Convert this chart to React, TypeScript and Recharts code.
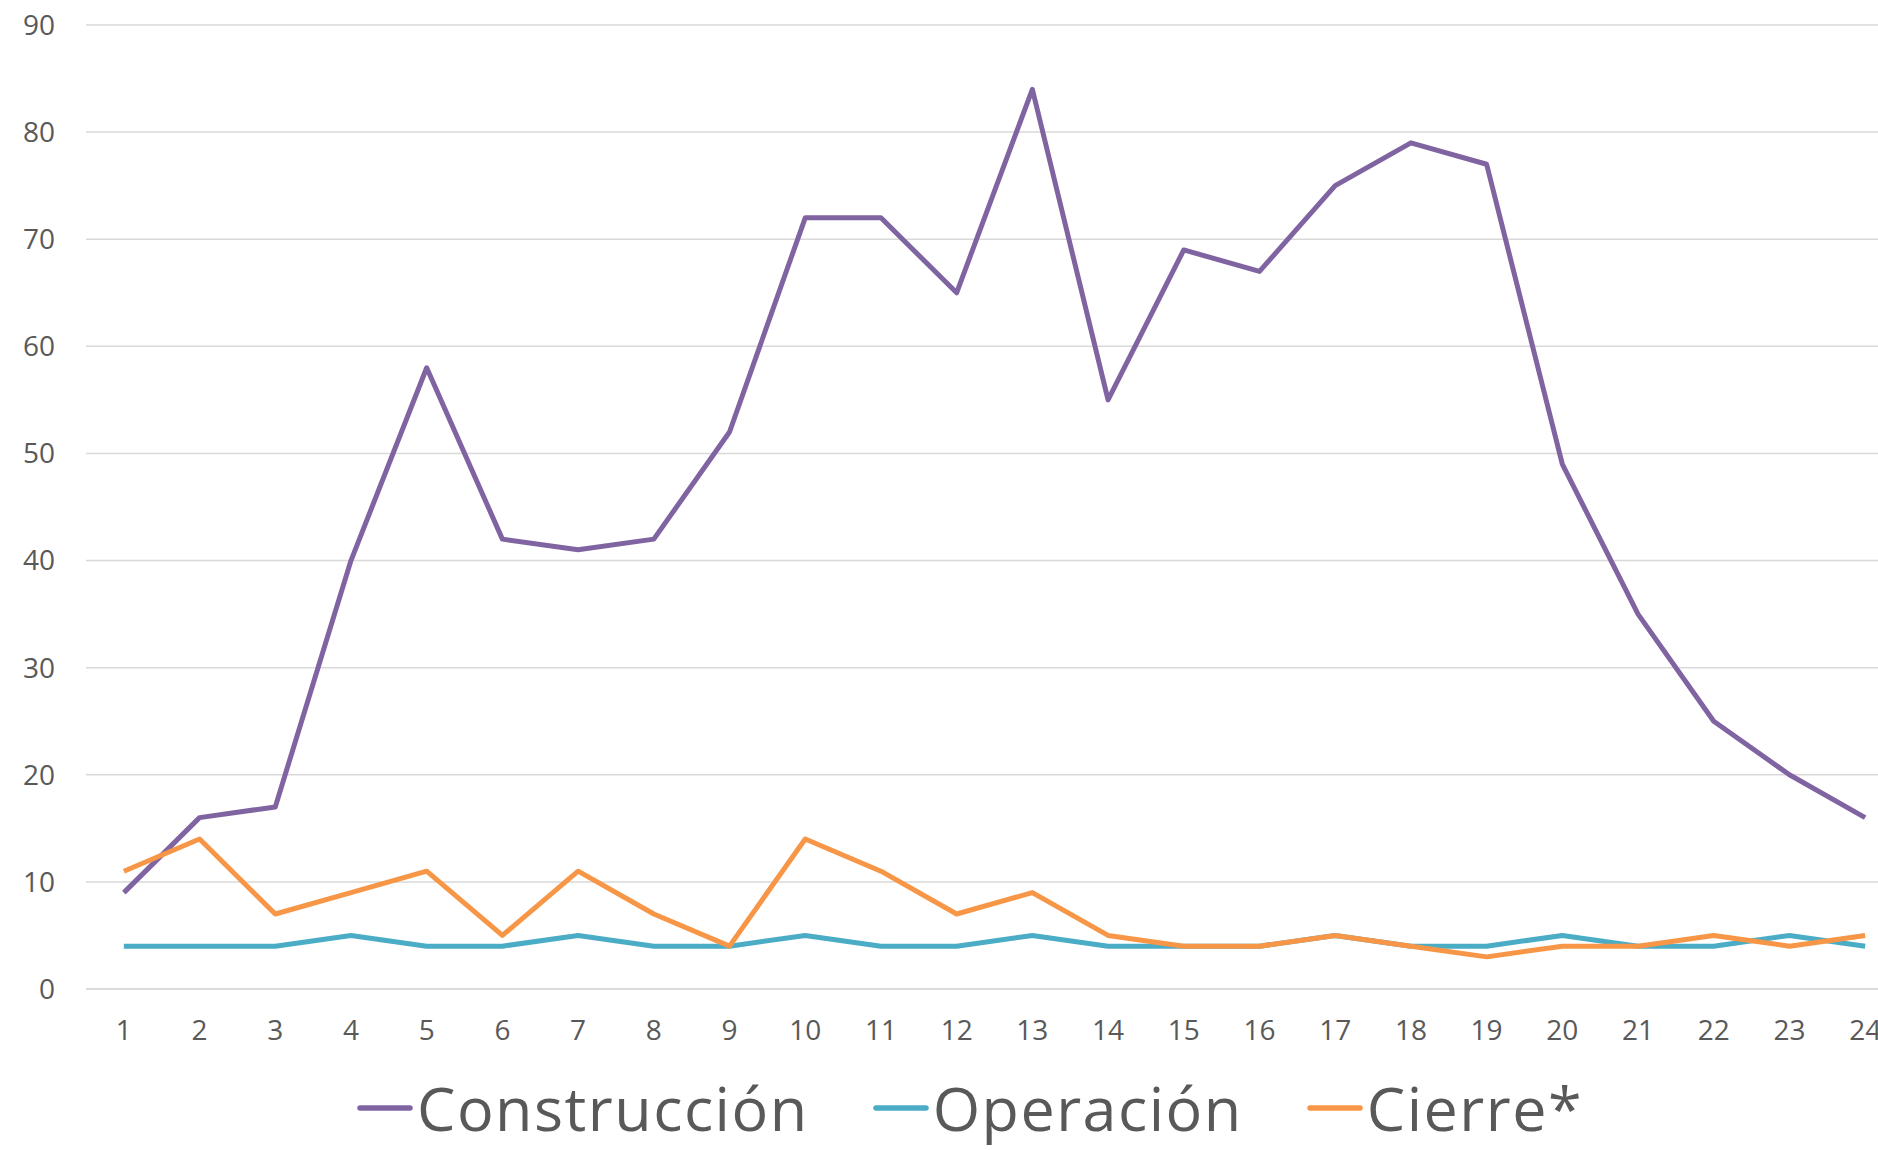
import React from 'react';
import { LineChart, Line, XAxis, YAxis, CartesianGrid, Legend } from 'recharts';

const periods = ['1', '2', '3', '4', '5', '6', '7', '8', '9', '10', '11', '12', '13', '14', '15', '16', '17', '18', '19', '20', '21', '22', '23', '24'];
const construccion = [9, 16, 17, 40, 58, 42, 41, 42, 52, 72, 72, 65, 84, 55, 69, 67, 75, 79, 77, 49, 35, 25, 20, 16];
const operacion = [4, 4, 4, 5, 4, 4, 5, 4, 4, 5, 4, 4, 5, 4, 4, 4, 5, 4, 4, 5, 4, 4, 5, 4];
const cierre = [11, 14, 7, 9, 11, 5, 11, 7, 4, 14, 11, 7, 9, 5, 4, 4, 5, 4, 3, 4, 4, 5, 4, 5];
const yTicks = [0, 10, 20, 30, 40, 50, 60, 70, 80, 90];

const series = [
  { key: 'construccion', name: 'Construcción', color: '#8064a2' },
  { key: 'operacion', name: 'Operación', color: '#4bacc6' },
  { key: 'cierre', name: 'Cierre*', color: '#f79646' },
];

const chartData = periods.map((p, i) => ({
  period: p,
  construccion: construccion[i],
  operacion: operacion[i],
  cierre: cierre[i],
}));

const tickStyle = { fill: '#595959', fontSize: 28, fontFamily: '"Open Sans", sans-serif' };

// legend drawn by hand so the spacing matches the original
const renderLegend = () => (
  <div style={{ display: 'flex', alignItems: 'center', height: 82, fontFamily: '"Open Sans", sans-serif' }}>
    {series.map((s, i) => (
      <div key={s.key} style={{ display: 'flex', alignItems: 'center', marginRight: i < series.length - 1 ? 64 : 0 }}>
        <svg width={56} height={10} style={{ marginRight: 4 }}>
          <line x1={3} y1={5} x2={53} y2={5} stroke={s.color} strokeWidth={5.5} strokeLinecap="round" />
        </svg>
        <span style={{ fontSize: 61, lineHeight: '82px', letterSpacing: 1.5, color: '#595959' }}>{s.name}</span>
      </div>
    ))}
  </div>
);

export default function App() {
  return (
    <div style={{ position: 'absolute', left: 0, top: 0, width: 1878, height: 1150, overflow: 'hidden', background: '#fff' }}>
      <LineChart width={1904} height={1150} data={chartData} margin={{ top: 25, right: 1, bottom: 19, left: 0 }}>
        <CartesianGrid horizontal vertical={false} stroke="#d9d9d9" strokeWidth={1.5} />
        <XAxis
          dataKey="period"
          padding={{ left: 37.85, right: 37.85 }}
          tick={tickStyle}
          tickLine={false}
          axisLine={{ stroke: '#d9d9d9', strokeWidth: 1.5 }}
          tickSize={0}
          tickMargin={31}
          height={60}
          interval={0}
        />
        <YAxis
          domain={[0, 90]}
          ticks={yTicks}
          tick={tickStyle}
          tickLine={false}
          axisLine={false}
          tickSize={0}
          tickMargin={31}
          width={86}
        />
        <Legend
          verticalAlign="bottom"
          content={renderLegend}
          wrapperStyle={{ top: 1067, bottom: 'auto', left: 357, width: 1400 }}
        />
        {series.map((s) => (
          <Line
            key={s.key}
            type="linear"
            dataKey={s.key}
            name={s.name}
            stroke={s.color}
            strokeWidth={5}
            strokeLinejoin="round"
            dot={false}
            isAnimationActive={false}
          />
        ))}
      </LineChart>
    </div>
  );
}
